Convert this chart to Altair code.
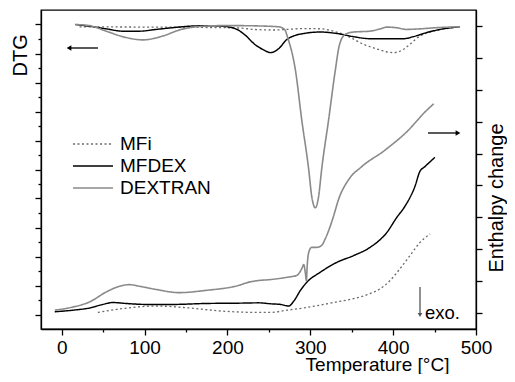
import altair as alt
import pandas as pd

series_names = ["MFi", "MFDEX", "DEXTRAN"]

# ---- DTG curves (left axis, arbitrary units) ----
dtg_t_mfi = [21.6, 105.8, 165.9, 213.9, 232.0, 256.0, 271.6, 292.1, 312.5, 328.1, 346.2,
             364.2, 382.2, 391.8, 400.2, 412.3, 420.3, 432.3, 448.3, 472.4, 480.8]
dtg_v_mfi = [10.42, 10.41, 10.40, 10.38, 10.33, 10.31, 10.33, 10.36, 10.35, 10.27, 10.08,
             9.82, 9.64, 9.56, 9.53, 9.64, 9.82, 10.10, 10.27, 10.39, 10.42]

dtg_t_mfdex = [16.5, 33.7, 53.7, 73.7, 93.8, 113.8, 133.8, 153.8, 173.9, 193.9, 210.0, 222.0,
               233.2, 244.0, 252.0, 262.0, 272.0, 292.1, 312.1, 332.1, 352.2, 372.2, 392.2,
               412.3, 424.3, 440.3, 460.3, 480.4]
dtg_v_mfdex = [10.50, 10.44, 10.35, 10.27, 10.27, 10.33, 10.39, 10.44, 10.46, 10.44, 10.35, 10.12,
               9.81, 9.62, 9.53, 9.67, 9.99, 10.19, 10.24, 10.19, 10.08, 10.01, 10.01,
               10.01, 10.08, 10.22, 10.35, 10.42]

dtg_t_dextran = [16.5, 33.7, 53.7, 73.7, 97.7, 121.8, 141.8, 161.9, 189.9, 213.9, 238.0, 262.0,
                 269.2, 272.8, 282.1, 289.7, 298.1, 301.7, 306.1, 310.1, 313.7, 322.1, 330.2,
                 335.3, 342.2, 352.2, 372.2, 384.3, 392.2, 403.8, 415.9, 432.3, 451.9, 480.8]
dtg_v_dextran = [10.50, 10.46, 10.27, 10.08, 9.97, 10.10, 10.31, 10.42, 10.46, 10.46, 10.45, 10.42,
                 10.32, 10.04, 8.92, 7.21, 5.50, 4.58, 4.18, 4.58, 5.50, 7.21, 8.92,
                 9.81, 10.16, 10.24, 10.27, 10.35, 10.41, 10.39, 10.33, 10.35, 10.39, 10.42]

# ---- Enthalpy change curves (right axis, arbitrary units) ----
enth_t_mfi = [43.6, 73.7, 113.8, 153.8, 193.9, 238.0, 252.0, 272.0, 292.1, 312.1, 332.1,
              352.2, 372.2, 384.3, 396.3, 408.3, 420.3, 432.3, 444.7]
enth_v_mfi = [0.52, 0.64, 0.72, 0.66, 0.56, 0.52, 0.52, 0.59, 0.66, 0.75, 0.85,
              0.95, 1.11, 1.26, 1.52, 1.89, 2.30, 2.71, 2.98]

enth_t_mfdex = [-8.4, 13.6, 33.7, 49.6, 61.7, 77.8, 101.8, 133.8, 173.9, 213.9, 238.0, 252.0,
                264.1, 274.0, 280.0, 288.1, 296.0, 312.1, 332.1, 352.2, 372.2, 392.2, 404.2,
                414.3, 426.3, 432.3, 438.3, 450.4]
enth_v_mfdex = [0.54, 0.59, 0.66, 0.77, 0.83, 0.80, 0.77, 0.77, 0.80, 0.81, 0.82, 0.79,
                0.77, 0.72, 0.87, 1.21, 1.47, 1.78, 2.09, 2.30, 2.56, 3.02, 3.49,
                3.85, 4.47, 4.94, 5.09, 5.38]

enth_t_dextran = [-8.4, 13.6, 33.7, 53.7, 69.7, 81.7, 93.8, 113.8, 141.8, 173.9, 213.9, 226.0,
                  238.0, 252.0, 271.6, 283.7, 289.7, 292.1, 294.1, 295.3, 296.3, 298.1, 301.7,
                  307.7, 313.7, 318.1, 324.2, 328.1, 334.1, 346.2, 362.1, 390.3, 418.3, 438.3, 449.0]
enth_v_dextran = [0.59, 0.69, 0.85, 1.16, 1.34, 1.39, 1.34, 1.24, 1.14, 1.21, 1.37, 1.47,
                  1.52, 1.55, 1.62, 1.68, 1.89, 2.02, 1.74, 1.52, 1.99, 2.40, 2.56,
                  2.56, 2.62, 2.83, 3.23, 3.54, 4.06, 4.68, 5.09, 5.61, 6.23, 6.80, 7.06]

x_ticks = [0, 50, 100, 150, 200, 250, 300, 350, 400, 450, 500]
dtg_ticks = [i * 0.5 for i in range(1, 22)]
enth_ticks = [i + 0.5 for i in range(0, 10)]


def frame(t, v, name):
    return pd.DataFrame({"T": t, "v": v, "series": name})


dtg = pd.concat([frame(dtg_t_mfi, dtg_v_mfi, "MFi"),
                 frame(dtg_t_mfdex, dtg_v_mfdex, "MFDEX"),
                 frame(dtg_t_dextran, dtg_v_dextran, "DEXTRAN")])
enth = pd.concat([frame(enth_t_mfi, enth_v_mfi, "MFi"),
                  frame(enth_t_mfdex, enth_v_mfdex, "MFDEX"),
                  frame(enth_t_dextran, enth_v_dextran, "DEXTRAN")])

FONT = "Liberation Sans"
colors = ["#6a6a6a", "#000000", "#8a8a8a"]
dashes = [[2, 2.5], [1, 0], [1, 0]]
widths = [1.3, 1.6, 1.4]

color_scale = alt.Scale(domain=series_names, range=colors)
dash_scale = alt.Scale(domain=series_names, range=dashes)
width_scale = alt.Scale(domain=series_names, range=widths)

x_enc = alt.X(
    "T:Q",
    scale=alt.Scale(domain=[-25, 500], nice=False, zero=False),
    axis=alt.Axis(
        values=x_ticks,
        labelExpr="datum.value % 100 == 0 ? datum.label : ''",
        tickSize={"condition": {"test": "datum.value % 100 == 0", "value": 6}, "value": 3},
        title="Temperature [°C]",
        titleX=336, titleY=41, titleAlign="center", titleBaseline="alphabetic",
        titleFontSize=19,
        labelPadding=3, labelFlush=False, labelOverlap=False, grid=False,
        labelFontSize=19,
    ),
)

common = dict(
    color=alt.Color("series:N", scale=color_scale, legend=None),
    strokeDash=alt.StrokeDash("series:N", scale=dash_scale, legend=None),
    strokeWidth=alt.StrokeWidth("series:N", scale=width_scale, legend=None),
    detail="series:N",
)

dtg_lines = alt.Chart(dtg).mark_line(interpolate="monotone").encode(
    x=x_enc,
    y=alt.Y("v:Q", scale=alt.Scale(domain=[0, 11], nice=False, zero=False),
            axis=alt.Axis(orient="left", values=dtg_ticks, labels=False, grid=False,
                          tickSize={"condition": {"test": "datum.value % 1 != 0", "value": 6}, "value": 3},
                          title="DTG", titleX=-21, titleY=66, titleAngle=270,
                          titleAlign="left", titleBaseline="middle")),
    order=alt.Order("T:Q"),
    **common,
)

enth_lines = alt.Chart(enth).mark_line(interpolate="monotone").encode(
    x=x_enc,
    y=alt.Y("v:Q", scale=alt.Scale(domain=[0, 10], nice=False, zero=False),
            axis=alt.Axis(orient="right", values=enth_ticks, labels=False, grid=False,
                          tickSize=6, title="Enthalpy change", titleX=26, titleY=262,
                          titleAngle=270, titleAlign="left", titleBaseline="alphabetic")),
    order=alt.Order("T:Q"),
    **common,
)

one = pd.DataFrame({"a": [0]})
annotations = []

# left arrow (DTG)
annotations.append(alt.Chart(one).mark_rule(color="black", strokeWidth=1.3).encode(
    x=alt.value(29), x2=alt.value(57), y=alt.value(38)))
annotations.append(alt.Chart(one).mark_point(shape="triangle-left", filled=True, size=30,
                                             color="black", opacity=1).encode(
    x=alt.value(28), y=alt.value(38)))
# right arrow (Enthalpy)
annotations.append(alt.Chart(one).mark_rule(color="black", strokeWidth=1.3).encode(
    x=alt.value(387), x2=alt.value(416), y=alt.value(123)))
annotations.append(alt.Chart(one).mark_point(shape="triangle-right", filled=True, size=30,
                                             color="black", opacity=1).encode(
    x=alt.value(417), y=alt.value(123)))
# exo arrow
annotations.append(alt.Chart(one).mark_rule(color="#555555", strokeWidth=1.3).encode(
    x=alt.value(379), y=alt.value(277), y2=alt.value(304)))
annotations.append(alt.Chart(one).mark_point(shape="triangle-down", filled=True, size=22,
                                             color="#555555", opacity=1).encode(
    x=alt.value(379), y=alt.value(305)))
annotations.append(alt.Chart(one).mark_text(text="exo.", align="left", baseline="alphabetic",
                                            fontSize=18.5, font=FONT, color="black").encode(
    x=alt.value(384), y=alt.value(309)))

# legend
for i, name in enumerate(series_names):
    yy = 134 + 22 * i
    annotations.append(alt.Chart(one).mark_rule(color=colors[i], strokeWidth=widths[i],
                                                strokeDash=dashes[i]).encode(
        x=alt.value(32), x2=alt.value(72), y=alt.value(yy)))
    annotations.append(alt.Chart(one).mark_text(text=name, align="left", baseline="middle",
                                                fontSize=19, font=FONT, color="black").encode(
        x=alt.value(79), y=alt.value(yy)))

chart = alt.layer(dtg_lines, enth_lines, *annotations).resolve_scale(
    y="independent"
).properties(
    width=435, height=319,
    autosize=alt.AutoSizeParams(type="none"),
    padding={"left": 33, "top": 2, "right": 31, "bottom": 45},
).configure_view(
    stroke="black", strokeWidth=1.3
).configure_axis(
    domainColor="black", domainWidth=1.3, tickColor="black", tickWidth=1.3,
    labelFont=FONT, labelFontSize=20, labelColor="black",
    titleFont=FONT, titleFontSize=20, titleFontWeight="normal", titleColor="black",
)

chart.save("out.html", embed_options={"renderer": "svg", "actions": False})
